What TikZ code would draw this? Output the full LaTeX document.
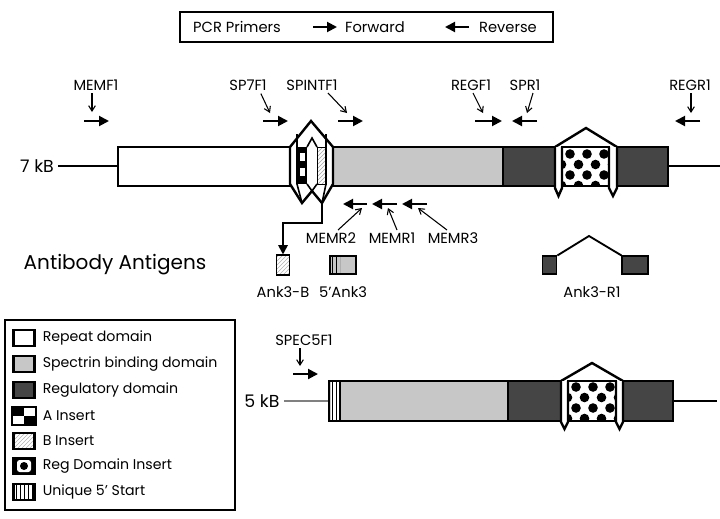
\documentclass[tikz,border=0pt]{standalone}
\usepackage{fontspec}
\setmainfont{Poppins}
\usetikzlibrary{arrows.meta,patterns,positioning}

\definecolor{specgray}{gray}{0.78}
\definecolor{reggray}{gray}{0.27}

\tikzset{
  dombox/.style={line width=1.8pt},
  keybox/.style={line width=1.1pt},
  fwd/.style={line width=1.5pt,-{Triangle[length=7.5pt,width=7.5pt]}},
  ptr/.style={line width=0.8pt,-{Straight Barb[length=4pt,width=5pt]}},
  lbl/.style={font=\fontsize{11}{13}\selectfont,inner sep=0pt},
  keylbl/.style={font=\fontsize{10.6}{12}\selectfont,inner sep=0pt},
  swatch/.style={draw,line width=1.8pt,minimum width=16pt,minimum height=12pt,inner sep=0pt},
}

\begin{document}
\begin{tikzpicture}[x=0.75pt,y=0.75pt,yscale=-1,xscale=1]
\useasboundingbox (0,0) rectangle (720,518);

%Key: primers
\draw[keybox] (180,12) rectangle (553,42);
\node[lbl] (pcr) at (237,27) {PCR Primers};
\draw[fwd] (313,27) -- (337,27);
\node[lbl] (fw) at (375,27) {Forward};
\draw[fwd] (469,27) -- (445,27);
\node[lbl] (rv) at (508,27) {Reverse};

% Text Node
\node[lbl,font=\fontsize{13}{15}\selectfont] (kb7) at (37,166) {7 kB};
\draw[line width=1.5pt] (kb7.east) ++(4,0) -- (118,166);
\draw[line width=1.5pt] (668,166) -- (720,166);

%Shape: 7 kB domains
\draw[dombox,fill=white] (118,147) rectangle (290,186);
\draw[dombox,fill=specgray] (333,147) rectangle (503,186);
\draw[dombox,fill=reggray] (503,147) rectangle (555,186);
\draw[dombox,fill=reggray] (617,147) rectangle (668,186);

%Shape: A and B inserts
\draw[dombox,fill=white] (290,147) -- (311,121) -- (333,147) -- (333,184) -- (322,203) -- (312,191) -- (302,203) -- (290,184) -- cycle;
\fill (297,147) rectangle (307,184);
\fill[white] (300,153) rectangle (304.5,161);
\fill[white] (300,168) rectangle (304.5,176);
\draw[pattern=north east lines,pattern color=gray!70] (317,147) rectangle (326,184);
\draw[line width=1.2pt] (297,134) -- (297,184) -- (302,203);
\draw[line width=1.2pt] (326,134) -- (326,184) -- (322,203);
\draw[line width=1.2pt] (307,147) -- (312,138) -- (317,147);
\draw[line width=1.2pt] (307,184) -- (312,191) -- (317,184);
\coordinate (bIns) at (322,203);

%Shape: regulatory insert, 7 kB
\draw[dombox,fill=white] (555,147) -- (586,128) -- (617,147);
\draw[dombox,fill=white] (555,147) -- (555,188) -- (558.5,196) -- (562,188) -- (562,147);
\draw[dombox,fill=white] (609,147) -- (609,188) -- (613,196) -- (617,188) -- (617,147);
\begin{scope}
\clip (562,148) rectangle (609,186);
\foreach \r in {0,...,4} \foreach \c in {-1,...,3}
  \fill ({570+17*\c+8.5*mod(\r,2)},{154+10.5*\r}) circle (4.8);
\end{scope}
\draw[dombox] (562,147) rectangle (609,186);

%Primers, 7 kB
\node[lbl] (memf1) at (96,85) {MEMF1};
\draw[ptr] (92,93) -- (92,112);
\draw[fwd] (84,121) -- (109,121);
\node[lbl] (sp7f1) at (248,85) {SP7F1};
\draw[ptr] (sp7f1.south east) ++(-6,3) -- (270,113);
\draw[fwd] (263,121) -- (288,121);
\node[lbl] (spintf1) at (312,85) {SPINTF1};
\draw[ptr] (328,93) -- (347,113);
\draw[fwd] (338,121) -- (363,121);
\node[lbl] (regf1) at (471,85) {REGF1};
\draw[ptr] (473,93) -- (483,113);
\draw[fwd] (475,121) -- (502,121);
\node[lbl] (spr1) at (525,85) {SPR1};
\draw[ptr] (533,93) -- (527,113);
\draw[fwd] (537,121) -- (512,121);
\node[lbl] (regr1) at (690,85) {REGR1};
\draw[ptr] (691,93) -- (691,113);
\draw[fwd] (700,121) -- (675,121);

\draw[fwd] (367,204) -- (343,204);
\draw[fwd] (397,204) -- (372,204);
\draw[fwd] (427,204) -- (402,204);
\node[lbl] (memr2) at (331,238) {MEMR2};
\node[lbl] (memr1) at (392,238) {MEMR1};
\node[lbl] (memr3) at (453,238) {MEMR3};
\draw[ptr] (338,230) -- (362,208);
\draw[ptr] (397,230) -- (388,208);
\draw[ptr] (447,230) -- (418,208);

%Antibody antigens
\node[lbl,font=\fontsize{15}{17}\selectfont] (abag) at (115,265) {Antibody Antigens};
\node[draw,line width=0.8pt,minimum width=9.5pt,minimum height=15pt,inner sep=0pt,pattern=north east lines,pattern color=gray!60] (ankB) at (283,265) {};
\draw[line width=1.4pt,-{Triangle[length=7pt,width=7pt]}] (bIns) -- (322,223) -| (ankB.north);
\node[lbl] (lankB) at (283,292) {Ank3-B};
\draw[fill=specgray,line width=0.8pt] (330,256) rectangle (356,274);
\fill[pattern=vertical lines] (331,256) rectangle (340,274);
\draw[line width=1.4pt] (330,256) rectangle (356,274);
\node[lbl] (lank5) at (343,292) {5’Ank3};
\node[draw,line width=0.8pt,fill=reggray,minimum width=11pt,minimum height=13.5pt,inner sep=0pt] (r1a) at (549.5,265) {};
\node[draw,line width=0.8pt,fill=reggray,minimum width=19.5pt,minimum height=13.5pt,inner sep=0pt] (r1b) at (635,265) {};
\coordinate (r1top) at (589,236);
\draw[line width=1.4pt] (r1a.north east) -- (r1top) -- (r1b.north west);
\node[lbl] (lankR) at (592,292) {Ank3-R1};

%Key: domains
\draw[keybox] (5,320) rectangle (235,510);
\node[swatch,fill=white] (kRep) at (24,338) {};
\node[swatch,fill=specgray] (kSpec) at (24,364) {};
\node[swatch,fill=reggray] (kReg) at (24,390) {};
\node[swatch,fill=black] (kA) at (24,416) {};
\fill[white] (kA.center) rectangle (kA.north east);
\fill[white] (kA.center) rectangle (kA.south west);
\draw[line width=1.8pt] (kA.north west) rectangle (kA.south east);
\node[swatch,pattern=north east lines,pattern color=gray!60] (kB) at (24,441) {};
\node[swatch,fill=black] (kRI) at (24,466) {};
\fill[white,rounded corners=2pt] (17,460) rectangle (31,472);
\fill (24,466) circle (4);
\node[swatch,pattern=vertical lines] (kU) at (24,492) {};
\foreach \k/\t in {kRep/Repeat domain,kSpec/Spectrin binding domain,kReg/Regulatory domain,kA/A Insert,kB/B Insert,kRI/Reg Domain Insert,kU/Unique 5’ Start}
  \node[keylbl,anchor=west,right=5pt of \k] {\t};

%5 kB isoform
\node[lbl,font=\fontsize{13}{15}\selectfont] (kb5) at (262,401) {5 kB};
\draw[line width=1.5pt,gray] (kb5.east) ++(4,0) -- (329,401);
\draw[line width=1.5pt] (673,401) -- (717,401);
\draw[dombox,fill=specgray] (329,381) rectangle (508,421);
\fill[white] (331,382) rectangle (340,420);
\fill[pattern=vertical lines] (331,382) rectangle (338,420);
\draw[line width=1pt] (340,381) -- (340,421);
\draw[dombox,fill=reggray] (508,381) rectangle (561,421);
\draw[dombox,fill=reggray] (623,381) rectangle (673,421);
\draw[dombox] (329,381) rectangle (508,421);
\draw[dombox,fill=white] (561,381) -- (592,363) -- (623,381);
\draw[dombox,fill=white] (561,381) -- (561,422) -- (564.5,429) -- (568,422) -- (568,381);
\draw[dombox,fill=white] (616,381) -- (616,422) -- (619.5,429) -- (623,422) -- (623,381);
\begin{scope}
\clip (568,382) rectangle (616,421);
\foreach \r in {0,...,4} \foreach \c in {-1,...,3}
  \fill ({576+17*\c+8.5*mod(\r,2)},{387+10.5*\r}) circle (4.8);
\end{scope}
\draw[dombox] (568,381) rectangle (616,421);

\node[lbl] (spec5f1) at (304,340) {SPEC5F1};
\draw[ptr] (300,348) -- (300,366);
\draw[fwd] (293,374) -- (318,374);

\end{tikzpicture}
\end{document}
